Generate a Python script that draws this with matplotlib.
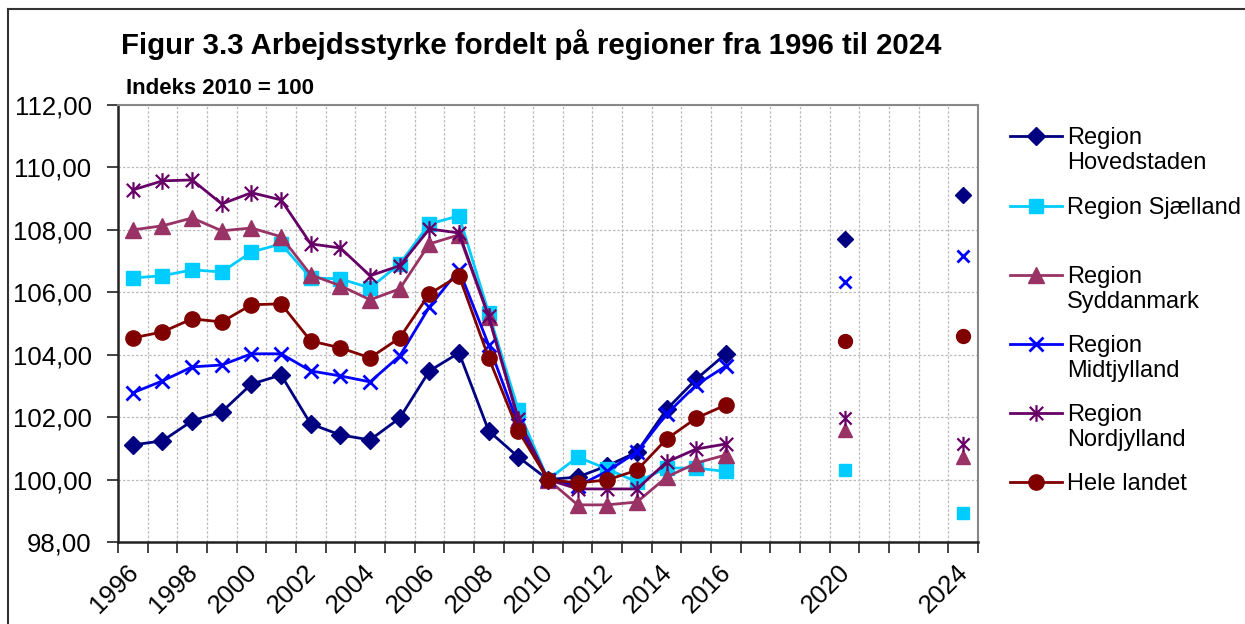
import matplotlib
matplotlib.use("Agg")
import matplotlib.pyplot as plt
import matplotlib.transforms as mtransforms
from matplotlib.lines import Line2D
from matplotlib.path import Path
from matplotlib.ticker import FuncFormatter, MultipleLocator
import numpy as np

plt.rcParams["font.family"] = ["Liberation Sans", "DejaVu Sans"]

# data: 1996-2016 observed, 2020 and 2024 projections
years = list(range(1996, 2017)) + [2020, 2024]

hovedstaden = [101.11, 101.24, 101.88, 102.17, 103.06, 103.35, 101.78, 101.43, 101.27, 101.97,
               103.48, 104.06, 101.56, 100.72, 100.00, 100.08, 100.44, 100.88, 102.25, 103.22,
               104.03, 107.71, 109.12]
sjaelland = [106.46, 106.53, 106.72, 106.65, 107.29, 107.55, 106.46, 106.43, 106.14, 106.91,
             108.19, 108.45, 105.34, 102.23, 100.00, 100.72, 100.34, 99.92, 100.37, 100.37,
             100.26, 100.30, 98.93]
syddanmark = [108.00, 108.13, 108.38, 107.97, 108.06, 107.78, 106.56, 106.21, 105.76, 106.11,
              107.55, 107.84, 105.21, 101.91, 100.00, 99.19, 99.19, 99.28, 100.08, 100.53,
              100.79, 101.59, 100.72]
midtjylland = [102.78, 103.16, 103.61, 103.67, 104.03, 104.03, 103.48, 103.32, 103.13, 103.96,
               105.53, 106.72, 104.31, 101.75, 100.00, 99.79, 100.27, 100.88, 102.10, 103.03,
               103.64, 106.33, 107.17]
nordjylland = [109.28, 109.57, 109.60, 108.83, 109.19, 108.96, 107.55, 107.42, 106.53, 106.85,
               108.03, 107.90, 105.24, 101.94, 100.00, 99.70, 99.70, 99.70, 100.56, 100.98,
               101.14, 101.97, 101.14]
hele_landet = [104.54, 104.73, 105.15, 105.05, 105.60, 105.63, 104.44, 104.22, 103.90, 104.54,
               105.95, 106.53, 103.90, 101.56, 100.00, 99.89, 99.99, 100.30, 101.30, 101.97,
               102.39, 104.44, 104.60]

labels = ["Region\nHovedstaden", "Region Sjælland", "Region\nSyddanmark",
          "Region\nMidtjylland", "Region\nNordjylland", "Hele landet"]
tick_years = [1996, 1998, 2000, 2002, 2004, 2006, 2008, 2010, 2012, 2014, 2016, 2020, 2024]

star = Path([(-1, -1), (1, 1), (-1, 1), (1, -1), (0, -1.25), (0, 1.25)],
            [Path.MOVETO, Path.LINETO, Path.MOVETO, Path.LINETO, Path.MOVETO, Path.LINETO])

styles = [
    dict(color="#000080", marker="D", ms=9.5),
    dict(color="#00CCFF", marker="s", ms=10),
    dict(color="#993366", marker="^", ms=11),
    dict(color="#0000FF", marker="x", ms=10, mew=2),
    dict(color="#660066", marker=star, ms=12, mew=1.6),
    dict(color="#800000", marker="o", ms=11),
]
series = [hovedstaden, sjaelland, syddanmark, midtjylland, nordjylland, hele_landet]

W, H = 1245, 624
fig = plt.figure(figsize=(W / 100, H / 100), dpi=100)
ax = fig.add_axes([118 / W, 1 - 542 / H, 860 / W, 437 / H])

n_obs = 21
for vals, st in zip(series, styles):
    c = st["color"]
    ax.plot(years[:n_obs], vals[:n_obs], color=c, lw=2.0, marker=st["marker"], ms=st["ms"],
            mfc=c, mec=c, mew=st.get("mew", 1), clip_on=False)
    ax.plot(years[n_obs:], vals[n_obs:], ls="none", color=c, marker=st["marker"],
            ms=st["ms"] - 1, mfc=c, mec=c, mew=st.get("mew", 1), clip_on=False)

ax.set_xlim(1995.5, 2024.5)
ax.set_ylim(98, 112)
ax.yaxis.set_major_locator(MultipleLocator(2))
ax.yaxis.set_major_formatter(FuncFormatter(lambda v, p: f"{v:.2f}".replace(".", ",")))
ax.set_xticks(tick_years)
ax.set_xticks(np.arange(1995.5, 2025, 1), minor=True)
ax.set_xticklabels([str(y) for y in tick_years], rotation=45, ha="right", va="top",
                   rotation_mode="anchor", fontsize=18.5)
ax.tick_params(axis="x", which="major", length=0, pad=13)
ax.tick_params(axis="x", which="minor", length=8, width=1.2, direction="out", color="#222222")
ax.tick_params(axis="y", length=8, width=1.2, direction="out", pad=11, labelsize=18.5,
               color="#222222")

# nudge rotated year labels so their ends sit on the category centre
shift = mtransforms.ScaledTranslation(-7 / 100, 0, fig.dpi_scale_trans)
for lbl in ax.get_xticklabels():
    lbl.set_transform(lbl.get_transform() + shift)

ax.grid(True, axis="y", which="major", color="#bbbbbb", ls=(0, (2, 1.5)), lw=0.9)
ax.grid(True, axis="x", which="minor", color="#bbbbbb", ls=(0, (2, 1.5)), lw=0.9)
ax.set_axisbelow(True)

for side in ["left", "bottom"]:
    ax.spines[side].set_color("#222222")
    ax.spines[side].set_linewidth(1.8)
for side in ["right", "top"]:
    ax.spines[side].set_color("#888888")
    ax.spines[side].set_linewidth(1.5)

# titles
fig.text(121 / W, 1 - 45 / H, "Figur 3.3 Arbejdsstyrke fordelt på regioner fra 1996 til 2024",
         fontsize=21.2, fontweight="bold", va="center", ha="left")
fig.text(126 / W, 1 - 88 / H, "Indeks 2010 = 100", fontsize=16, fontweight="bold",
         va="center", ha="left")

# legend drawn by hand to match the multi-line layout
legend_y = [136, 206, 275, 344, 413, 482]
for lab, st, ly in zip(labels, styles, legend_y):
    c = st["color"]
    fy = 1 - ly / H
    fig.add_artist(Line2D([1010 / W, 1062 / W], [fy, fy], color=c, lw=2.0))
    fig.add_artist(Line2D([1036 / W], [fy], color=c, marker=st["marker"], ms=st["ms"],
                          mfc=c, mec=c, mew=st.get("mew", 1)))
    fig.text(1067 / W, fy + 9 / H, lab, fontsize=17, va="top", ha="left", linespacing=1.18)

# outer chart frame
fig.add_artist(Line2D([8 / W, 1], [1 - 9 / H, 1 - 9 / H], color="#333333", lw=1.5))
fig.add_artist(Line2D([8 / W, 8 / W], [0, 1 - 9 / H], color="#333333", lw=1.5))

fig.savefig("out.png", dpi=100)
